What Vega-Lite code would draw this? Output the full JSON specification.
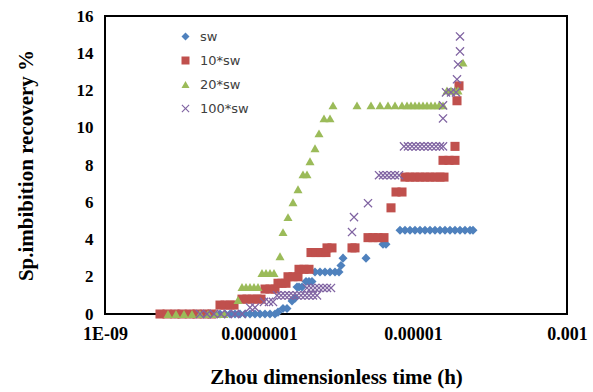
{
"$schema":"https://vega.github.io/schema/vega-lite/v6.json",
"width":462,"height":298,
"autosize":{"type":"none"},
"padding":{"left":105,"top":16,"right":26,"bottom":78},
"background":"white",
"config":{"view":{"stroke":"#000","strokeWidth":2}},
"data":{"values":[
{"series":"sw","t":8.11e-9,"r":0},{"series":"sw","t":9.42e-9,"r":0},{"series":"sw","t":1.094e-8,"r":0},{"series":"sw","t":1.27e-8,"r":0},{"series":"sw","t":1.475e-8,"r":0},{"series":"sw","t":1.713e-8,"r":0},{"series":"sw","t":1.989e-8,"r":0},{"series":"sw","t":2.31e-8,"r":0},{"series":"sw","t":2.683e-8,"r":0},{"series":"sw","t":3.116e-8,"r":0},{"series":"sw","t":3.618e-8,"r":0},{"series":"sw","t":4.202e-8,"r":0},{"series":"sw","t":4.88e-8,"r":0},{"series":"sw","t":5.666e-8,"r":0},{"series":"sw","t":6.579e-8,"r":0},{"series":"sw","t":7.64e-8,"r":0},{"series":"sw","t":8.873e-8,"r":0},{"series":"sw","t":1.03e-7,"r":0},{"series":"sw","t":1.197e-7,"r":0},{"series":"sw","t":1.389e-7,"r":0},{"series":"sw","t":1.614e-7,"r":0},
{"series":"sw","t":1.765e-7,"r":0.1},{"series":"sw","t":2.05e-7,"r":0.3},{"series":"sw","t":2.31e-7,"r":0.3},{"series":"sw","t":2.683e-7,"r":0.7},{"series":"sw","t":2.934e-7,"r":0.85},{"series":"sw","t":3.115e-7,"r":1.45},{"series":"sw","t":3.307e-7,"r":1.45},{"series":"sw","t":3.617e-7,"r":1.45},{"series":"sw","t":4.077e-7,"r":1.75},{"series":"sw","t":4.46e-7,"r":1.75},{"series":"sw","t":4.878e-7,"r":1.75},
{"series":"sw","t":5.336e-7,"r":2.25},{"series":"sw","t":6.197e-7,"r":2.25},{"series":"sw","t":7.197e-7,"r":2.25},{"series":"sw","t":8.357e-7,"r":2.25},{"series":"sw","t":9.705e-7,"r":2.25},{"series":"sw","t":1.094e-6,"r":2.25},
{"series":"sw","t":1.161e-6,"r":2.6},{"series":"sw","t":1.233e-6,"r":3.0},{"series":"sw","t":2.453e-6,"r":3.0},{"series":"sw","t":4.078e-6,"r":3.75},{"series":"sw","t":4.46e-6,"r":3.75},
{"series":"sw","t":6.78e-6,"r":4.5},{"series":"sw","t":7.874e-6,"r":4.5},{"series":"sw","t":9.143e-6,"r":4.5},{"series":"sw","t":1.062e-5,"r":4.5},{"series":"sw","t":1.233e-5,"r":4.5},{"series":"sw","t":1.432e-5,"r":4.5},{"series":"sw","t":1.663e-5,"r":4.5},{"series":"sw","t":1.931e-5,"r":4.5},{"series":"sw","t":2.242e-5,"r":4.5},{"series":"sw","t":2.604e-5,"r":4.5},{"series":"sw","t":3.024e-5,"r":4.5},{"series":"sw","t":3.511e-5,"r":4.5},{"series":"sw","t":4.077e-5,"r":4.5},{"series":"sw","t":4.735e-5,"r":4.5},{"series":"sw","t":5.499e-5,"r":4.5},{"series":"sw","t":6.015e-5,"r":4.5},
{"series":"10*sw","t":5.18e-9,"r":0},{"series":"10*sw","t":6.386e-9,"r":0},{"series":"10*sw","t":8.111e-9,"r":0},{"series":"10*sw","t":1.0e-8,"r":0},{"series":"10*sw","t":1.27e-8,"r":0},{"series":"10*sw","t":1.566e-8,"r":0},{"series":"10*sw","t":1.989e-8,"r":0},{"series":"10*sw","t":2.452e-8,"r":0},
{"series":"10*sw","t":3.116e-8,"r":0.48},{"series":"10*sw","t":3.618e-8,"r":0.48},{"series":"10*sw","t":4.202e-8,"r":0.48},{"series":"10*sw","t":4.736e-8,"r":0.48},
{"series":"10*sw","t":6.015e-8,"r":0.8},{"series":"10*sw","t":6.984e-8,"r":0.8},{"series":"10*sw","t":8.11e-8,"r":0.8},{"series":"10*sw","t":9.42e-8,"r":0.8},{"series":"10*sw","t":1.0613e-7,"r":0.8},
{"series":"10*sw","t":1.197e-7,"r":1.34},{"series":"10*sw","t":1.389e-7,"r":1.34},{"series":"10*sw","t":1.614e-7,"r":1.34},
{"series":"10*sw","t":1.765e-7,"r":1.65},{"series":"10*sw","t":1.989e-7,"r":1.65},{"series":"10*sw","t":2.242e-7,"r":1.65},
{"series":"10*sw","t":2.38e-7,"r":2.0},{"series":"10*sw","t":2.764e-7,"r":2.0},{"series":"10*sw","t":3.21e-7,"r":2.0},
{"series":"10*sw","t":3.307e-7,"r":2.4},{"series":"10*sw","t":3.84e-7,"r":2.4},{"series":"10*sw","t":4.46e-7,"r":2.4},
{"series":"10*sw","t":4.735e-7,"r":3.3},{"series":"10*sw","t":5.498e-7,"r":3.3},{"series":"10*sw","t":6.385e-7,"r":3.3},{"series":"10*sw","t":7.416e-7,"r":3.3},
{"series":"10*sw","t":7.64e-7,"r":3.55},{"series":"10*sw","t":8.872e-7,"r":3.55},{"series":"10*sw","t":1.614e-6,"r":3.55},{"series":"10*sw","t":1.765e-6,"r":3.55},
{"series":"10*sw","t":2.604e-6,"r":4.1},{"series":"10*sw","t":3.024e-6,"r":4.1},{"series":"10*sw","t":3.512e-6,"r":4.1},{"series":"10*sw","t":4.201e-6,"r":4.1},
{"series":"10*sw","t":5.181e-6,"r":5.7},{"series":"10*sw","t":6.016e-6,"r":6.55},{"series":"10*sw","t":7.198e-6,"r":6.55},
{"series":"10*sw","t":7.874e-6,"r":7.35},{"series":"10*sw","t":9.143e-6,"r":7.35},{"series":"10*sw","t":1.062e-5,"r":7.35},{"series":"10*sw","t":1.233e-5,"r":7.35},{"series":"10*sw","t":1.432e-5,"r":7.35},{"series":"10*sw","t":1.663e-5,"r":7.35},{"series":"10*sw","t":1.931e-5,"r":7.35},{"series":"10*sw","t":2.242e-5,"r":7.35},{"series":"10*sw","t":2.527e-5,"r":7.35},
{"series":"10*sw","t":2.453e-5,"r":8.25},{"series":"10*sw","t":2.935e-5,"r":8.25},{"series":"10*sw","t":3.511e-5,"r":8.25},
{"series":"10*sw","t":3.511e-5,"r":9.0},{"series":"10*sw","t":3.727e-5,"r":11.45},{"series":"10*sw","t":3.957e-5,"r":12.25},
{"series":"20*sw","t":6.58e-9,"r":0},{"series":"20*sw","t":8.357e-9,"r":0},{"series":"20*sw","t":1.062e-8,"r":0},{"series":"20*sw","t":1.349e-8,"r":0},{"series":"20*sw","t":1.713e-8,"r":0},{"series":"20*sw","t":2.176e-8,"r":0},{"series":"20*sw","t":2.764e-8,"r":0},{"series":"20*sw","t":3.511e-8,"r":0},
{"series":"20*sw","t":5.337e-8,"r":0.75},
{"series":"20*sw","t":6.015e-8,"r":1.45},{"series":"20*sw","t":6.779e-8,"r":1.45},{"series":"20*sw","t":7.64e-8,"r":1.45},{"series":"20*sw","t":8.611e-8,"r":1.45},{"series":"20*sw","t":9.703e-8,"r":1.45},
{"series":"20*sw","t":1.0935e-7,"r":2.2},{"series":"20*sw","t":1.2333e-7,"r":2.2},{"series":"20*sw","t":1.389e-7,"r":2.2},{"series":"20*sw","t":1.566e-7,"r":2.2},
{"series":"20*sw","t":1.874e-7,"r":3.1},{"series":"20*sw","t":2.05e-7,"r":4.4},{"series":"20*sw","t":2.38e-7,"r":5.2},{"series":"20*sw","t":2.764e-7,"r":6.0},{"series":"20*sw","t":3.21e-7,"r":6.7},{"series":"20*sw","t":3.727e-7,"r":7.5},{"series":"20*sw","t":4.201e-7,"r":7.5},{"series":"20*sw","t":4.595e-7,"r":8.2},{"series":"20*sw","t":5.336e-7,"r":8.9},{"series":"20*sw","t":6.014e-7,"r":9.7},{"series":"20*sw","t":6.985e-7,"r":10.5},{"series":"20*sw","t":8.357e-7,"r":10.5},
{"series":"20*sw","t":9.142e-7,"r":11.2},{"series":"20*sw","t":1.874e-6,"r":11.2},{"series":"20*sw","t":2.848e-6,"r":11.2},{"series":"20*sw","t":3.728e-6,"r":11.2},{"series":"20*sw","t":4.736e-6,"r":11.2},{"series":"20*sw","t":5.839e-6,"r":11.2},{"series":"20*sw","t":7.198e-6,"r":11.2},{"series":"20*sw","t":8.359e-6,"r":11.2},{"series":"20*sw","t":9.421e-6,"r":11.2},{"series":"20*sw","t":1.062e-5,"r":11.2},{"series":"20*sw","t":1.1965e-5,"r":11.2},{"series":"20*sw","t":1.3487e-5,"r":11.2},{"series":"20*sw","t":1.52e-5,"r":11.2},{"series":"20*sw","t":1.713e-5,"r":11.2},{"series":"20*sw","t":1.931e-5,"r":11.2},{"series":"20*sw","t":2.176e-5,"r":11.2},{"series":"20*sw","t":2.453e-5,"r":11.2},
{"series":"20*sw","t":2.764e-5,"r":12.0},{"series":"20*sw","t":3.116e-5,"r":12.0},{"series":"20*sw","t":3.511e-5,"r":12.0},{"series":"20*sw","t":3.841e-5,"r":12.0},{"series":"20*sw","t":4.46e-5,"r":13.5},
{"series":"100*sw","t":1.713e-8,"r":0},{"series":"100*sw","t":2.112e-8,"r":0},{"series":"100*sw","t":2.604e-8,"r":0},{"series":"100*sw","t":3.211e-8,"r":0},{"series":"100*sw","t":3.958e-8,"r":0},{"series":"100*sw","t":4.88e-8,"r":0},{"series":"100*sw","t":6.015e-8,"r":0},
{"series":"100*sw","t":7.64e-8,"r":0.35},{"series":"100*sw","t":8.873e-8,"r":0.35},
{"series":"100*sw","t":1.162e-7,"r":0.65},{"series":"100*sw","t":1.348e-7,"r":0.65},{"series":"100*sw","t":1.52e-7,"r":0.65},
{"series":"100*sw","t":1.713e-7,"r":1.0},{"series":"100*sw","t":1.931e-7,"r":1.0},{"series":"100*sw","t":2.176e-7,"r":1.0},{"series":"100*sw","t":2.452e-7,"r":1.0},{"series":"100*sw","t":2.764e-7,"r":1.0},{"series":"100*sw","t":3.115e-7,"r":1.0},{"series":"100*sw","t":3.511e-7,"r":1.0},{"series":"100*sw","t":3.957e-7,"r":1.0},{"series":"100*sw","t":4.46e-7,"r":1.0},{"series":"100*sw","t":5.027e-7,"r":1.0},{"series":"100*sw","t":5.665e-7,"r":1.0},
{"series":"100*sw","t":4.201e-7,"r":1.4},{"series":"100*sw","t":4.735e-7,"r":1.4},{"series":"100*sw","t":5.336e-7,"r":1.4},{"series":"100*sw","t":6.014e-7,"r":1.4},{"series":"100*sw","t":6.78e-7,"r":1.4},{"series":"100*sw","t":7.64e-7,"r":1.4},{"series":"100*sw","t":8.611e-7,"r":1.4},
{"series":"100*sw","t":1.614e-6,"r":4.4},{"series":"100*sw","t":1.713e-6,"r":5.2},{"series":"100*sw","t":2.604e-6,"r":5.95},
{"series":"100*sw","t":3.618e-6,"r":7.45},{"series":"100*sw","t":4.078e-6,"r":7.45},{"series":"100*sw","t":4.596e-6,"r":7.45},{"series":"100*sw","t":5.181e-6,"r":7.45},{"series":"100*sw","t":5.839e-6,"r":7.45},{"series":"100*sw","t":6.58e-6,"r":7.45},
{"series":"100*sw","t":7.642e-6,"r":9.0},{"series":"100*sw","t":8.613e-6,"r":9.0},{"series":"100*sw","t":9.706e-6,"r":9.0},{"series":"100*sw","t":1.094e-5,"r":9.0},{"series":"100*sw","t":1.233e-5,"r":9.0},{"series":"100*sw","t":1.3895e-5,"r":9.0},{"series":"100*sw","t":1.566e-5,"r":9.0},{"series":"100*sw","t":1.765e-5,"r":9.0},{"series":"100*sw","t":1.99e-5,"r":9.0},{"series":"100*sw","t":2.242e-5,"r":9.0},{"series":"100*sw","t":2.453e-5,"r":9.0},
{"series":"100*sw","t":2.453e-5,"r":10.5},{"series":"100*sw","t":2.453e-5,"r":11.2},
{"series":"100*sw","t":2.683e-5,"r":11.9},{"series":"100*sw","t":3.116e-5,"r":11.9},{"series":"100*sw","t":3.618e-5,"r":11.9},
{"series":"100*sw","t":3.727e-5,"r":12.6},{"series":"100*sw","t":3.841e-5,"r":13.4},{"series":"100*sw","t":4.077e-5,"r":14.1},{"series":"100*sw","t":4.077e-5,"r":14.9}
]},
"mark":{"type":"point","filled":true,"opacity":1,"size":82},
"encoding":{
"x":{"field":"t","type":"quantitative","scale":{"type":"log","domain":[1e-9,0.001],"nice":false},
"axis":{"values":[1e-9,1e-7,1e-5,0.001],"labelExpr":"datum.value < 1e-8 ? '1E-09' : datum.value < 1e-6 ? '0.0000001' : datum.value < 1e-4 ? '0.00001' : '0.001'","grid":false,"ticks":false,"tickSize":0,"domain":false,"labelFlush":false,"labelOverlap":false,"labelFont":"Liberation Serif","labelFontWeight":"bold","labelFontSize":18,"labelColor":"#000","labelPadding":11,"title":"Zhou dimensionless time (h)","titleFont":"Liberation Serif","titleFontSize":21,"titleFontWeight":"bold","titleColor":"#000","titlePadding":23}},
"y":{"field":"r","type":"quantitative","scale":{"domain":[0,16],"nice":false},
"axis":{"values":[0,2,4,6,8,10,12,14,16],"grid":false,"ticks":false,"tickSize":0,"domain":false,"labelFont":"Liberation Serif","labelFontWeight":"bold","labelFontSize":17,"labelColor":"#000","labelPadding":12,"title":"Sp.imbibition recovery %","titleFont":"Liberation Serif","titleFontSize":21,"titleFontWeight":"bold","titleColor":"#000","titlePadding":40}},
"color":{"field":"series","type":"nominal","scale":{"domain":["sw","10*sw","20*sw","100*sw"],"range":["#4F81BD","#C0504D","#9BBB59","#8064A2"]},
"legend":{"title":null,"orient":"none","legendX":74,"legendY":14,"padding":0,"symbolSize":64,"labelFont":"DejaVu Sans","labelFontSize":13,"labelColor":"#404040","rowPadding":10,"labelOffset":8,"symbolStrokeWidth":0}},
"shape":{"field":"series","type":"nominal","scale":{"domain":["sw","10*sw","20*sw","100*sw"],"range":["diamond","square","triangle-up","M-1,-0.8L-0.8,-1L0,-0.2L0.8,-1L1,-0.8L0.2,0L1,0.8L0.8,1L0,0.2L-0.8,1L-1,0.8L-0.2,0Z"]},
"legend":{"title":null,"orient":"none","legendX":74,"legendY":14,"padding":0,"symbolSize":64,"labelFont":"DejaVu Sans","labelFontSize":13,"labelColor":"#404040","rowPadding":10,"labelOffset":8,"symbolStrokeWidth":0}}
}
}
